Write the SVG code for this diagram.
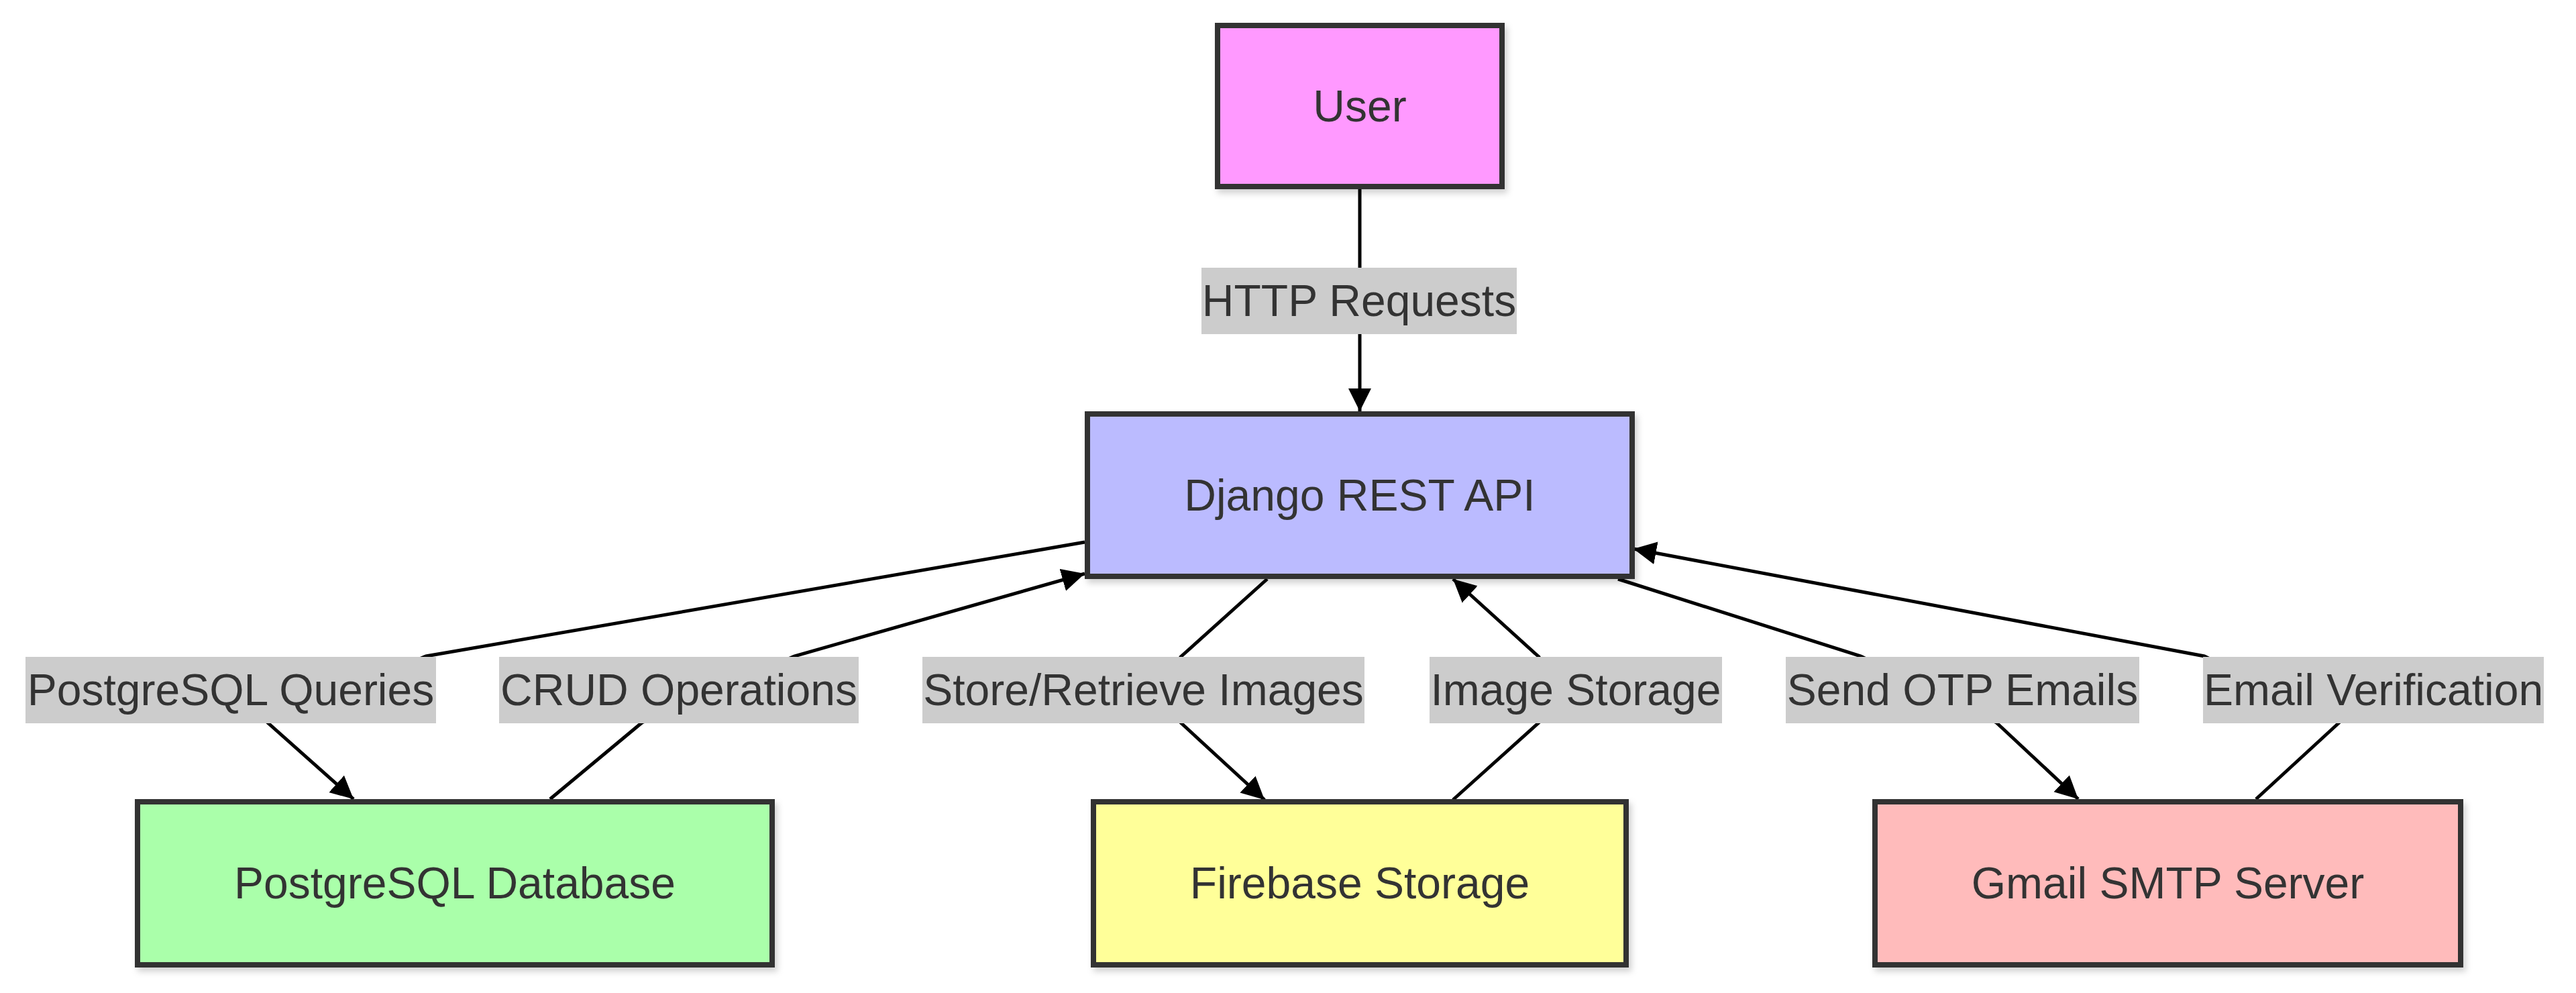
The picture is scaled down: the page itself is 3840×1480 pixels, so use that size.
<svg xmlns="http://www.w3.org/2000/svg" width="3840" height="1480" viewBox="0 0 3840 1480">
<style>
.node rect{stroke:#333333;stroke-width:8;filter:url(#shadow)}
.node text,.label text{font-family:"Liberation Sans",Arial,sans-serif;font-size:66px;fill:#333333;text-anchor:middle}
.edge{fill:none;stroke:#000000;stroke-width:5;marker-end:url(#arrow)}
.edge.plain{marker-end:none}
.label rect{fill:#cccccc}
</style>
<defs>
<marker id="arrow" viewBox="0 0 10 10" refX="10" refY="5" markerUnits="userSpaceOnUse" markerWidth="34" markerHeight="36" orient="auto">
<path d="M0,0 L10,5 L0,10 z" fill="#000000"/>
</marker>
<filter id="shadow" x="-10%" y="-10%" width="130%" height="130%">
<feDropShadow dx="4" dy="6" stdDeviation="5" flood-color="#000000" flood-opacity="0.18"/>
</filter>
</defs>
<rect width="3840" height="1480" fill="#ffffff"/>
<g id="connectors">
<path class="edge" d="M2027,282 L2027,613"/>
<path class="edge" d="M1617,808 L635,978 L399,1077 L527,1191"/>
<path class="edge" d="M820,1191 L957,1077 L1184,978 L1617,855"/>
<path class="edge" d="M1889,863 L1760,979 L1760,1077 L1885,1192"/>
<path class="edge" d="M2166,1192 L2294,1077 L2294,979 L2166,863"/>
<path class="edge" d="M2412,863 L2774,978 L2976,1077 L3098,1191"/>
<path class="edge" d="M3363,1191 L3487,1077 L3286,978 L2435,818"/>
</g>
<g id="edge-labels">
<g class="label"><rect x="1791" y="399" width="470" height="99"/><text x="2026" y="471">HTTP Requests</text></g>
<g class="label"><rect x="38" y="979" width="612" height="99"/><text x="344" y="1051">PostgreSQL Queries</text></g>
<g class="label"><rect x="744" y="979" width="536" height="99"/><text x="1012" y="1051">CRUD Operations</text></g>
<g class="label"><rect x="1375" y="979" width="659" height="99"/><text x="1704.5" y="1051">Store/Retrieve Images</text></g>
<g class="label"><rect x="2131" y="979" width="436" height="99"/><text x="2349" y="1051">Image Storage</text></g>
<g class="label"><rect x="2662" y="979" width="527" height="99"/><text x="2925.5" y="1051">Send OTP Emails</text></g>
<g class="label"><rect x="3284" y="979" width="508" height="99"/><text x="3538" y="1051">Email Verification</text></g>
</g>
<g id="node-user" class="node"><rect x="1815" y="38" width="424" height="240" fill="#ff99ff"/><text x="2027" y="181">User</text></g>
<g id="node-django" class="node"><rect x="1621" y="617" width="812" height="242" fill="#bbbbff"/><text x="2027" y="761">Django REST API</text></g>
<g id="node-postgres" class="node"><rect x="205" y="1195" width="946" height="243" fill="#aaffaa"/><text x="678" y="1339">PostgreSQL Database</text></g>
<g id="node-firebase" class="node"><rect x="1630" y="1195" width="794" height="243" fill="#ffff99"/><text x="2027" y="1339">Firebase Storage</text></g>
<g id="node-gmail" class="node"><rect x="2795" y="1195" width="873" height="243" fill="#ffbbbb"/><text x="3231.5" y="1339">Gmail SMTP Server</text></g>
</svg>
